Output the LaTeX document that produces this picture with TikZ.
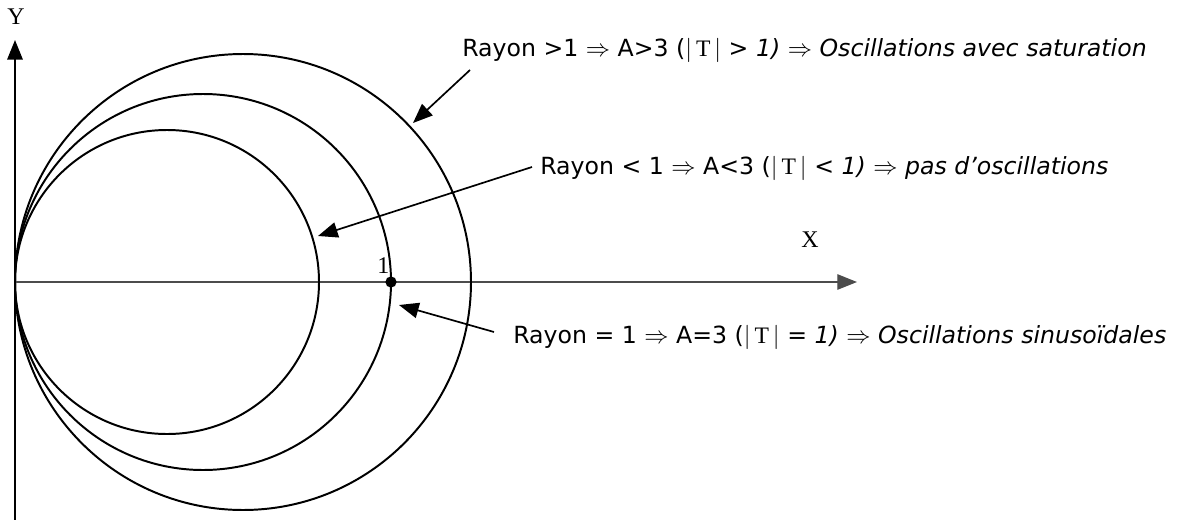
\documentclass[tikz,border=0pt]{standalone}
\usepackage{fontspec}
\setmainfont{DejaVu Sans}
\newfontfamily\serfont{Liberation Serif}
\usetikzlibrary{arrows.meta, positioning}
\tikzset{
    >={Triangle[length=14pt,width=11pt]},
    % Lines
    yaxis/.style={->, line width=1.3pt},
    xaxis/.style={->, line width=0.8pt, black!70},
    curve/.style={line width=1.4pt},
    pointer/.style={->, line width=1.2pt},
    % Labels
    remark/.style={font=\fontsize{16.8}{20}\selectfont, inner sep=0pt, anchor=west},
    axlbl/.style={font=\serfont\fontsize{17}{20}\selectfont, inner sep=0pt},
    dot/.style={circle, fill=black, inner sep=0pt, minimum size=8pt}
}
\newcommand{\modT}{$|$\,{\serfont T}\,$|$}

\begin{document}
\begin{tikzpicture}[x=0.025cm, y=-0.025cm]
\useasboundingbox (0,0) rectangle (1179,520);

% Axes
\coordinate (O) at (15,282);
\coordinate (ybot) at (15,520);
\coordinate (ytop) at (15,40);
\coordinate (xend) at (857,282);
\draw[yaxis] (ybot) -- (ytop);
\draw[xaxis] (O) -- (xend);
\node[axlbl] (ylbl) at (16,17) {Y};
\node[axlbl] (xlbl) at (810,240) {X};

% Circles, all tangent at the origin
\draw[curve] (167,282) circle[radius=152];
\draw[curve] (203,282) circle[radius=188];
\draw[curve] (243,282) circle[radius=228];

\node[dot] (pt1) at (391,282) {};
\node[axlbl, above left=3pt and -2pt of pt1] (one) {1};

% Remarks
\node[remark] (lblsat) at (462,50) {Rayon >1 $\Rightarrow$ A>3 (\modT\ > \textit{1)} $\Rightarrow$ \textit{Oscillations avec saturation}};
\node[remark] (lblpas) at (540,168) {Rayon < 1 $\Rightarrow$ A<3 (\modT\ < \textit{1)} $\Rightarrow$ \textit{pas d’oscillations}};
\node[remark] (lblsin) at (513,337) {Rayon = 1 $\Rightarrow$ A=3 (\modT\ = \textit{1)} $\Rightarrow$ \textit{Oscillations sinusoïdales}};

\coordinate (tsat) at (470,70);
\coordinate (hsat) at (413,123);
\coordinate (tpas) at (532,167);
\coordinate (hpas) at (318,236);
\coordinate (tsin) at (494,332);
\coordinate (hsin) at (399,305);

\draw[pointer] (tsat) -- (hsat);
\draw[pointer] (tpas) -- (hpas);
\draw[pointer] (tsin) -- (hsin);

\end{tikzpicture}
\end{document}
